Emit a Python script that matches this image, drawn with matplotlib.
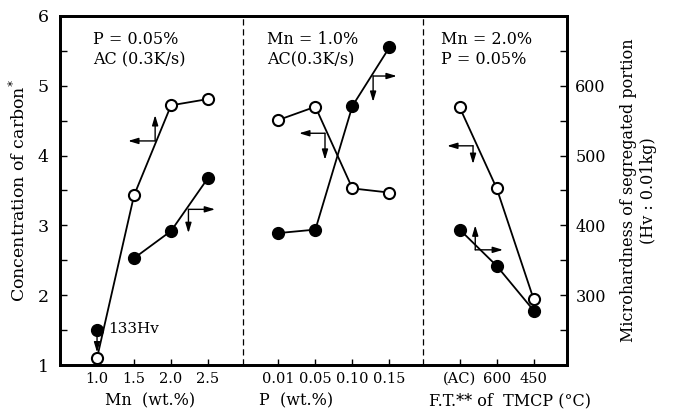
import numpy as np
import matplotlib
matplotlib.use('Agg')
import matplotlib.pyplot as plt
from matplotlib.ticker import MultipleLocator

plt.rcParams['font.family'] = ['DejaVu Serif']

# panel 1 : Mn content
mn_labels = ['1.0', '1.5', '2.0', '2.5']
carbon_mn = [1.10, 3.43, 4.72, 4.81]
hv_mn = [250, 353, 392, 468]   # first point drawn at 250, real value 133Hv

# panel 2 : P content
p_labels = ['0.01', '0.05', '0.10', '0.15']
carbon_p = [4.51, 4.70, 3.53, 3.47]
hv_p = [389, 394, 571, 655]

# panel 3 : finish temperature of TMCP
ft_labels = ['(AC)', '600', '450']
carbon_ft = [4.69, 3.53, 1.94]
hv_ft = [394, 342, 278]

x_mn = 1.0 + np.arange(len(mn_labels))
x_p = 5.9 + np.arange(len(p_labels))
x_ft = 10.8 + np.arange(len(ft_labels))

fig = plt.figure(figsize=(6.76, 4.13), dpi=100)
ax = fig.add_axes([0.0888, 0.1162, 0.75, 0.8451])
ax2 = ax.twinx()

ax.set_xlim(0, 13.7)
ax.set_ylim(1, 6)
ax2.set_ylim(200, 700)

open_kw = dict(color='k', lw=1.3, marker='o', ms=8, mfc='white', mec='k', mew=1.5)
fill_kw = dict(color='k', lw=1.3, marker='o', ms=8.5, mfc='k', mec='k')

# carbon (open symbols, left axis)
ax.plot(x_mn, carbon_mn, zorder=3, **open_kw)
ax.plot(x_p, carbon_p, zorder=3, **open_kw)
ax.plot(x_ft, carbon_ft, zorder=3, **open_kw)

# hardness (filled symbols, right axis)
ax2.plot(x_mn[:1], hv_mn[:1], ls='none', **{k: v for k, v in fill_kw.items() if k != 'lw'})
ax2.plot(x_mn[1:], hv_mn[1:], **fill_kw)
ax2.plot(x_p, hv_p, **fill_kw)
ax2.plot(x_ft, hv_ft, **fill_kw)

# panel separators
for xv in [4.95, 9.82]:
    ax.axvline(xv, color='k', lw=0.9, ls=(0, (5, 3)))

# axis indicator arrows (origin, horizontal end, vertical end) in carbon units
arrows = [((2.57, 4.21), 1.84, 4.58),
          ((3.47, 3.23), 4.19, 2.89),
          ((7.16, 4.32), 6.46, 3.94),
          ((8.46, 5.14), 9.10, 4.77),
          ((11.16, 4.14), 10.46, 3.88),
          ((11.22, 2.65), 11.97, 3.00)]
akw = dict(arrowstyle='-|>,head_length=0.6,head_width=0.18', color='k', lw=1.0,
           shrinkA=0, shrinkB=0)
for (x0, y0), xh, yv in arrows:
    ax.annotate('', xy=(xh, y0), xytext=(x0, y0), arrowprops=akw)
    ax.annotate('', xy=(x0, yv), xytext=(x0, y0), arrowprops=akw)
ax.annotate('', xy=(x_mn[0], 1.18), xytext=(x_mn[0], 1.42), arrowprops=akw)
ax.text(1.3, 1.52, '133Hv', fontsize=11, va='center', ha='left')

# panel conditions
tkw = dict(fontsize=11.5, ha='left', va='center', linespacing=1.3)
ax.text(0.88, 5.52, 'P = 0.05%\nAC (0.3K/s)', **tkw)
ax.text(5.6, 5.52, 'Mn = 1.0%\nAC(0.3K/s)', **tkw)
ax.text(10.3, 5.52, 'Mn = 2.0%\nP = 0.05%', **tkw)

# ticks
ax.set_xticks(np.concatenate([x_mn, x_p, x_ft]))
ax.set_xticklabels(mn_labels + p_labels + ft_labels, fontsize=10.5)
ax.yaxis.set_major_locator(MultipleLocator(1))
ax.yaxis.set_minor_locator(MultipleLocator(0.5))
ax2.yaxis.set_major_locator(MultipleLocator(100))
ax2.yaxis.set_minor_locator(MultipleLocator(50))
ax.tick_params(axis='x', direction='in', length=4, width=1, pad=5)
ax.tick_params(axis='y', which='both', direction='in', length=5, width=1, labelsize=12.5, pad=8)
ax2.tick_params(axis='y', which='both', direction='in', length=5, width=1, labelsize=11.5, pad=6)
ax2.set_yticks([300, 400, 500, 600])
for a in (ax, ax2):
    for s in a.spines.values():
        s.set_linewidth(2)

# axis titles
fig.text(0.222, 0.018, 'Mn  (wt.%)', fontsize=11.5, ha='center')
fig.text(0.438, 0.018, 'P  (wt.%)', fontsize=11.5, ha='center')
fig.text(0.755, 0.018, 'F.T.** of  TMCP (°C)', fontsize=11.5, ha='center')
ax.set_ylabel('Concentration of carbon$^{*}$', fontsize=12.5, labelpad=6)
ax2.set_ylabel('Microhardness of segregated portion\n(Hv : 0.01kg)', fontsize=11.5,
               labelpad=10, linespacing=1.25)

fig.savefig('out.png', dpi=100)
